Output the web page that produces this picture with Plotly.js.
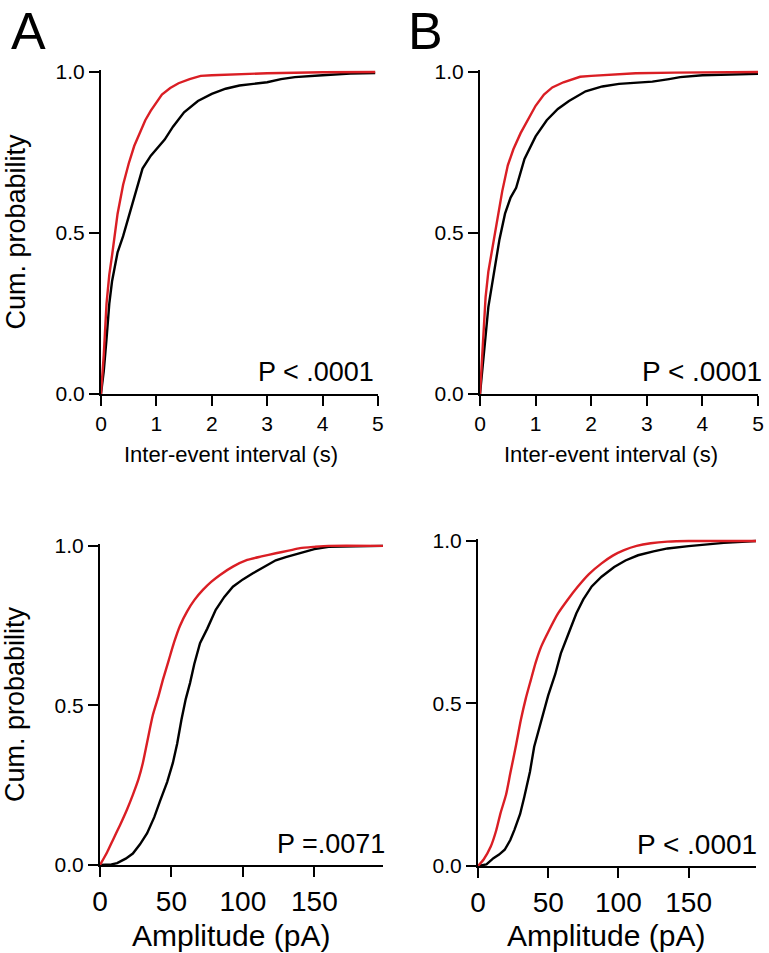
<!DOCTYPE html>
<html>
<head>
<meta charset="utf-8">
<script src="https://cdn.plot.ly/plotly-3.0.1.min.js"></script>
<style>html,body{margin:0;padding:0;background:#fff;}#chart{width:769px;height:953px;}</style>
</head>
<body>
<div id="chart"></div>
<script>
// ---- Data ----
// Panel A, inter-event interval (s)
const aIntBlackX = [0,0.05,0.1,0.15,0.2,0.3,0.4,0.5,0.6,0.75,0.9,1.0,1.15,1.3,1.5,1.75,2.0,2.25,2.5,2.75,3.0,3.25,3.5,4.0,4.5,4.95];
const aIntBlackY = [0,0.07,0.17,0.28,0.35,0.44,0.49,0.55,0.61,0.70,0.74,0.76,0.79,0.83,0.875,0.91,0.932,0.948,0.958,0.963,0.968,0.978,0.984,0.99,0.995,0.997];
const aIntRedX = [0,0.05,0.1,0.15,0.2,0.3,0.4,0.5,0.6,0.7,0.8,0.9,1.0,1.1,1.25,1.4,1.6,1.8,2.0,2.5,3.0,4.0,4.95];
const aIntRedY = [0,0.12,0.28,0.37,0.43,0.56,0.65,0.715,0.77,0.81,0.85,0.88,0.905,0.93,0.95,0.965,0.978,0.988,0.99,0.994,0.996,0.999,1.0];
// Panel B, inter-event interval (s)
const bIntBlackX = [0,0.05,0.1,0.15,0.25,0.35,0.45,0.55,0.65,0.8,1.0,1.2,1.4,1.6,1.9,2.2,2.5,2.8,3.1,3.4,3.6,4.0,4.5,5.0];
const bIntBlackY = [0,0.08,0.18,0.27,0.38,0.48,0.56,0.61,0.64,0.73,0.80,0.85,0.885,0.91,0.94,0.955,0.963,0.966,0.97,0.978,0.984,0.99,0.993,0.994];
const bIntRedX = [0,0.05,0.1,0.15,0.22,0.3,0.4,0.5,0.6,0.73,0.85,1.0,1.15,1.3,1.5,1.65,1.8,2.0,2.4,2.8,3.5,5.0];
const bIntRedY = [0,0.15,0.30,0.38,0.45,0.53,0.63,0.71,0.76,0.81,0.85,0.895,0.93,0.952,0.968,0.977,0.985,0.988,0.993,0.996,0.998,1.0];
// Panel A, amplitude (pA)
const aAmpBlackX = [0,8,12,18,23,28,33,38,42,47,51,54,57,60,63,66,70,75,81,87,93,100,107,115,123,130,140,150,160,175,198];
const aAmpBlackY = [0,0.002,0.006,0.02,0.036,0.065,0.10,0.15,0.20,0.26,0.32,0.38,0.455,0.52,0.57,0.63,0.695,0.74,0.80,0.84,0.872,0.895,0.914,0.935,0.955,0.965,0.977,0.99,0.997,0.999,1.0];
const aAmpRedX = [0,5,9,14,19,23,27,30,33,37,41,44,48,52,56,61,66,72,78,84,93,103,113,123,132,140,150,160,198];
const aAmpRedY = [0,0.04,0.078,0.125,0.175,0.22,0.27,0.32,0.385,0.47,0.53,0.58,0.64,0.70,0.75,0.795,0.83,0.862,0.888,0.909,0.935,0.956,0.967,0.977,0.985,0.993,0.997,1.0,1.0];
// Panel B, amplitude (pA)
const bAmpBlackX = [0,6,11,15,19,23,26,30,33,37,40,45,50,55,59,64,70,75,81,88,97,105,114,125,135,150,160,175,198];
const bAmpBlackY = [0,0.005,0.024,0.035,0.05,0.08,0.112,0.16,0.213,0.29,0.367,0.45,0.525,0.59,0.654,0.71,0.777,0.82,0.86,0.89,0.92,0.94,0.956,0.968,0.977,0.984,0.988,0.994,1.0];
const bAmpRedX = [0,4,9,13,16,20,23,27,30.5,34,37.6,41,45,50,57,64,71,79,88,96,104,113,123,135,150,198];
const bAmpRedY = [0,0.02,0.059,0.11,0.162,0.22,0.285,0.37,0.449,0.515,0.572,0.625,0.675,0.72,0.777,0.82,0.859,0.898,0.931,0.955,0.972,0.985,0.993,0.998,1.0,1.0];

const yTickVals = [0, 0.5, 1];
const yTickText = ['0.0', '0.5', '1.0'];
const intTickVals = [0,1,2,3,4,5];
const ampTickVals = [0,50,100,150];
const pTexts = ['P < .0001', 'P < .0001', 'P =.0071', 'P < .0001'];
const panelLabels = ['A', 'B'];
const xTitleInt = 'Inter-event interval (s)';
const xTitleAmp = 'Amplitude (pA)';
const yTitle = 'Cum. probability';

// ---- Styling ----
const FONT = '"Liberation Sans", Arial, Helvetica, sans-serif';
const RED = 'rgb(218,30,36)';
const BLACK = '#000';
const LW = 2.4;

function line(x, y, color, xa, ya, shape) {
  return {x: x, y: y, xaxis: xa, yaxis: ya, type: 'scatter', mode: 'lines',
          line: {color: color, width: LW, shape: shape || 'linear', smoothing: 0.6},
          hoverinfo: 'skip', showlegend: false};
}

const traces = [
  line(aIntBlackX, aIntBlackY, BLACK, 'x', 'y'),
  line(aIntRedX, aIntRedY, RED, 'x', 'y'),
  line(bIntBlackX, bIntBlackY, BLACK, 'x2', 'y2'),
  line(bIntRedX, bIntRedY, RED, 'x2', 'y2'),
  line(aAmpBlackX, aAmpBlackY, BLACK, 'x3', 'y3'),
  line(aAmpRedX, aAmpRedY, RED, 'x3', 'y3', 'spline'),
  line(bAmpBlackX, bAmpBlackY, BLACK, 'x4', 'y4'),
  line(bAmpRedX, bAmpRedY, RED, 'x4', 'y4', 'spline')
];

const axBase = {
  showline: true, linecolor: '#000', linewidth: 2,
  ticks: 'outside', ticklen: 10, tickwidth: 2, tickcolor: '#000',
  showgrid: false, zeroline: false, fixedrange: true,
  tickfont: {family: FONT, size: 21, color: '#000'}
};
function xInt(domain, anchor) {
  return Object.assign({}, axBase, {
    domain: domain, anchor: anchor, range: [0, 5], tickmode: 'array', tickvals: intTickVals
  });
}
function xAmp(domain, anchor) {
  return Object.assign({}, axBase, {
    domain: domain, anchor: anchor, range: [0, 198], tickmode: 'array', tickvals: ampTickVals,
    tickfont: {family: FONT, size: 28, color: '#000'}
  });
}
function yAx(domain, anchor, withTitle) {
  return Object.assign({}, axBase, {
    domain: domain, anchor: anchor, range: [0, 1.006], tickmode: 'array',
    tickvals: yTickVals, ticktext: yTickText,
    title: withTitle ? {text: yTitle, font: {family: FONT, size: 27, color: '#000'}, standoff: 22} : undefined
  });
}

function pAnn(text, x, y, size) {
  return {text: text, xref: 'paper', yref: 'paper', x: x, y: y, xanchor: 'right', yanchor: 'bottom',
          showarrow: false, font: {family: FONT, size: size, color: '#000'}};
}
function titleAnn(text, x, y, size) {
  return {text: text, xref: 'paper', yref: 'paper', x: x, y: y, xanchor: 'center', yanchor: 'top',
          showarrow: false, font: {family: FONT, size: size, color: '#000'}};
}
function labelAnn(text, x) {
  return {text: text, xref: 'paper', yref: 'paper', x: x, y: 1.0, xanchor: 'left', yanchor: 'top',
          showarrow: false, font: {family: FONT, size: 52, color: '#000'}};
}

const layout = {
  width: 769, height: 953,
  margin: {l: 0, r: 0, t: 0, b: 0},
  paper_bgcolor: '#fff', plot_bgcolor: '#fff',
  showlegend: false,
  xaxis: xInt([0.1313, 0.4915], 'y'),
  yaxis: yAx([0.5866, 0.9265], 'x', true),
  xaxis2: xInt([0.6242, 0.9857], 'y2'),
  yaxis2: yAx([0.5866, 0.9265], 'x2', false),
  xaxis3: xAmp([0.1300, 0.4980], 'y3'),
  yaxis3: yAx([0.0923, 0.4292], 'x3', true),
  xaxis4: xAmp([0.6216, 0.9831], 'y4'),
  yaxis4: yAx([0.0913, 0.4344], 'x4', false),
  annotations: [
    pAnn(pTexts[0], 0.489, 0.592, 27),
    pAnn(pTexts[1], 0.994, 0.592, 28),
    pAnn(pTexts[2], 0.503, 0.097, 27),
    pAnn(pTexts[3], 0.987, 0.096, 28),
    titleAnn(xTitleInt, 0.3004, 0.5379, 22),
    titleAnn(xTitleInt, 0.7945, 0.5379, 22),
    titleAnn(xTitleAmp, 0.3004, 0.038, 30),
    titleAnn(xTitleAmp, 0.788, 0.038, 30),
    labelAnn(panelLabels[0], 0.012),
    labelAnn(panelLabels[1], 0.5285)
  ]
};

Plotly.newPlot('chart', traces, layout, {displayModeBar: false, staticPlot: true});
</script>
</body>
</html>
